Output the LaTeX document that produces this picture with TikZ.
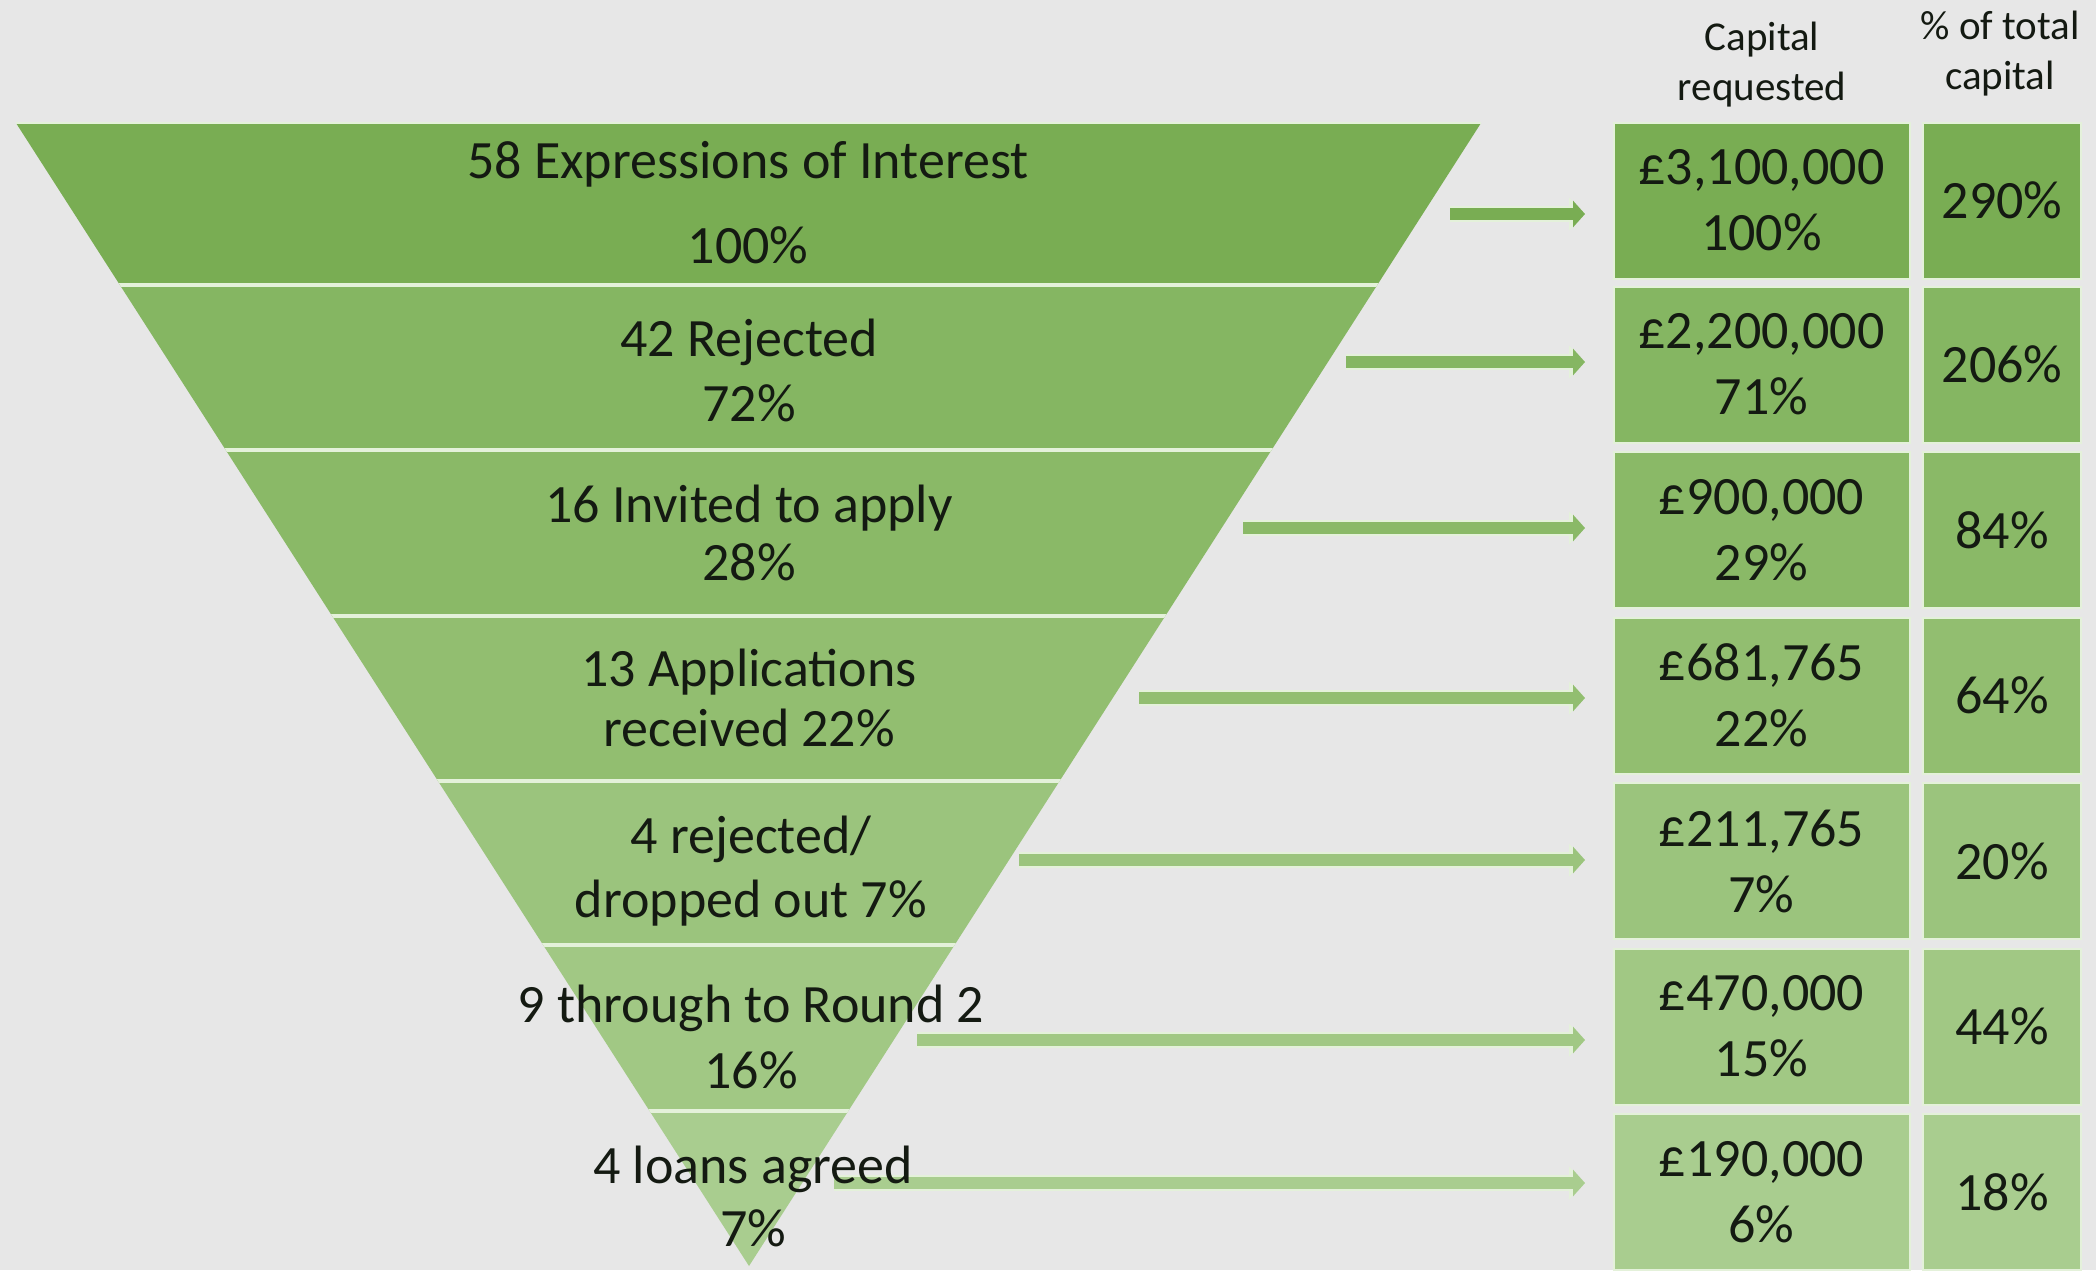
\documentclass[tikz,border=0pt]{standalone}
\usepackage{fontspec}
\setmainfont{Carlito}
\usetikzlibrary{arrows.meta}
\definecolor{bg}{HTML}{E7E7E7}
\definecolor{sep}{HTML}{E4F1DA}
\definecolor{txt}{HTML}{141A12}
\definecolor{gA}{HTML}{79AD53}
\definecolor{gB}{HTML}{85B662}
\definecolor{gC}{HTML}{8AB967}
\definecolor{gD}{HTML}{92BE70}
\definecolor{gE}{HTML}{9BC47D}
\definecolor{gF}{HTML}{A1C884}
\definecolor{gG}{HTML}{A9CD8F}
\tikzset{
  body/.style={font=\fontsize{27}{33}\selectfont, text=txt, align=center, inner sep=0pt},
  head/.style={font=\fontsize{20.5}{25}\selectfont, text=txt, align=center, inner sep=0pt},
  capbox/.style={draw=sep, line width=1pt, minimum width=148pt, minimum height=78pt, inner sep=0pt, font=\fontsize{27}{33}\selectfont, text=txt, align=center},
  pctbox/.style={draw=sep, line width=1pt, minimum width=79pt, minimum height=78pt, inner sep=0pt, font=\fontsize{27}{33}\selectfont, text=txt, align=center},
  flowarrow/.style={line width=6pt, -{Triangle[length=6pt,width=13pt]}},
  flowhalo/.style={line width=8pt, draw=sep, -{Triangle[length=8pt,width=16pt]}}
}
\begin{document}
\begin{tikzpicture}[x=0.5pt,y=-0.5pt]
\fill[bg] (0,0) rectangle (2096,1270);
\useasboundingbox (0,0) rectangle (2096,1270);
% funnel
\begin{scope}
\clip (16,123) -- (1481,123) -- (749,1266) -- cycle;
\fill[gA] (0,123) rectangle (1500,285);
\fill[gB] (0,285) rectangle (1500,450);
\fill[gC] (0,450) rectangle (1500,616);
\fill[gD] (0,616) rectangle (1500,781);
\fill[gE] (0,781) rectangle (1500,945);
\fill[gF] (0,945) rectangle (1500,1111);
\fill[gG] (0,1111) rectangle (1500,1270);
\foreach \yy in {285,450,616,781,945,1111}
  \draw[sep, line width=1.6pt] (0,\yy) -- (1500,\yy);
\end{scope}
\draw[sep, line width=1pt] (16,123) -- (1481,123);
% headers
\node[head] (h1) at (1762,65) {Capital\\requested};
\node[head] (h2) at (2000,54) {\% of total\\capital};
% boxes
\node[capbox, fill=gA] (c1) at (1761.5,200.5) {£3,100,000\\100\%};
\node[capbox, fill=gB] (c2) at (1761.5,364.5) {£2,200,000\\71\%};
\node[capbox, fill=gC] (c3) at (1761.5,530) {£900,000\\29\%};
\node[capbox, fill=gD] (c4) at (1761.5,695.5) {£681,765\\22\%};
\node[capbox, fill=gE] (c5) at (1761.5,861) {£211,765\\7\%};
\node[capbox, fill=gF] (c6) at (1761.5,1026.5) {£470,000\\15\%};
\node[capbox, fill=gG] (c7) at (1761.5,1192) {£190,000\\6\%};
\node[pctbox, fill=gA] (p1) at (2002,200.5) {290\%};
\node[pctbox, fill=gB] (p2) at (2002,364.5) {206\%};
\node[pctbox, fill=gC] (p3) at (2002,530) {84\%};
\node[pctbox, fill=gD] (p4) at (2002,695.5) {64\%};
\node[pctbox, fill=gE] (p5) at (2002,861) {20\%};
\node[pctbox, fill=gF] (p6) at (2002,1026.5) {44\%};
\node[pctbox, fill=gG] (p7) at (2002,1192) {18\%};
% arrow ends
\coordinate (s1) at (1450,214); \coordinate (e1) at (1585,214);
\coordinate (s2) at (1346,362); \coordinate (e2) at (1585,362);
\coordinate (s3) at (1243,528); \coordinate (e3) at (1585,528);
\coordinate (s4) at (1139,698); \coordinate (e4) at (1585,698);
\coordinate (s5) at (1019,860); \coordinate (e5) at (1585,860);
\coordinate (s6) at (917,1040); \coordinate (e6) at (1585,1040);
\coordinate (s7) at (834,1183); \coordinate (e7) at (1585,1183);
\foreach \i/\c in {1/gA,2/gB,3/gC,4/gD,5/gE,6/gF,7/gG}{
  \draw[flowhalo] (s\i) -- (e\i);
  \draw[flowarrow, draw=\c] (s\i) -- (e\i);
}
% funnel labels (above the arrows)
\node[body] (f1) at (748,203) {58 Expressions of Interest\\[9.5pt]100\%};
\node[body] (f2) at (749,370) {42 Rejected\\[-0.5pt]72\%};
\node[body] (f3) at (749,533) {16 Invited to apply\\[-4pt]28\%};
\node[body] (f4) at (749,698) {13 Applications\\[-3pt]received 22\%};
\node[body] (f5) at (751,871) {4 rejected/\\[-1pt]dropped out 7\%};
\node[body] (f6) at (751,1037) {9 through to Round 2\\16\%};
\node[body] (f7) at (753,1196) {4 loans agreed\\[-1.5pt]7\%};
\end{tikzpicture}
\end{document}
